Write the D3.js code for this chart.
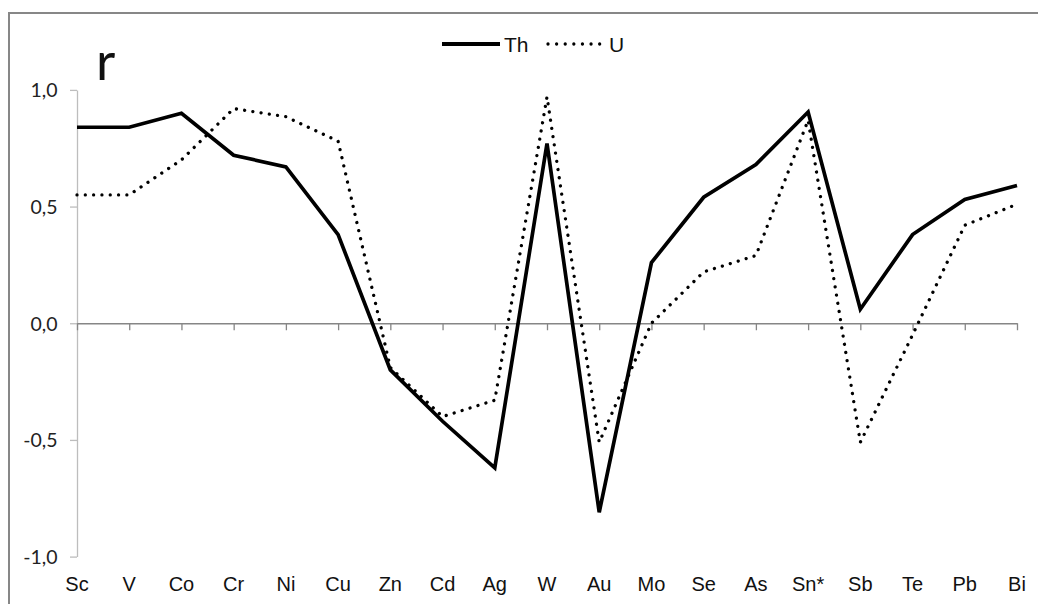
<!DOCTYPE html>
<html>
<head>
<meta charset="utf-8">
<script src="https://cdn.jsdelivr.net/npm/d3@7"></script>
<style>
  html, body { margin: 0; padding: 0; background: #fff; }
  svg { display: block; }
</style>
</head>
<body>
<svg id="chart" width="1038" height="604"></svg>
<script>
const categories = ["Sc","V","Co","Cr","Ni","Cu","Zn","Cd","Ag","W","Au","Mo","Se","As","Sn*","Sb","Te","Pb","Bi"];
const thValues = [0.84,0.84,0.90,0.72,0.67,0.38,-0.20,-0.42,-0.62,0.77,-0.81,0.26,0.54,0.68,0.905,0.06,0.38,0.53,0.59];
const uValues  = [0.55,0.55,0.70,0.92,0.885,0.78,-0.19,-0.40,-0.33,0.97,-0.51,0.0,0.22,0.29,0.87,-0.51,-0.05,0.42,0.51];
const yTicks = [-1.0,-0.5,0.0,0.5,1.0];
const seriesNames = ["Th","U"];

const svg = d3.select("#chart");

// outer frame
svg.append("rect").attr("x",9).attr("y",13).attr("width",1100).attr("height",700)
  .attr("fill","none").attr("stroke","#878787").attr("stroke-width",2);

const x = d3.scalePoint().domain(categories).range([77,1017]).padding(0);
const y = d3.scaleLinear().domain([-1,1]).range([556.6,89.9]);

// y axis
const yAxis = svg.append("g").attr("transform","translate(77,0)")
  .call(d3.axisLeft(y).tickValues(yTicks).tickSizeInner(7).tickSizeOuter(0)
    .tickFormat(d => d3.format(".1f")(d).replace(".", ",").replace("−","-")));
yAxis.select(".domain").attr("stroke","#bdbdbd").attr("stroke-width",1.3);
yAxis.selectAll(".tick line").attr("stroke","#bdbdbd").attr("stroke-width",1.3);
yAxis.selectAll(".tick text").attr("x",-19.5).attr("dy","0.36em")
  .attr("font-family","Lato, 'Open Sans', sans-serif")
  .attr("font-size",19.5).attr("fill","#222");

// x axis at zero
const xAxis = svg.append("g").attr("transform",`translate(0,${y(0)})`)
  .call(d3.axisBottom(x).tickSizeInner(7).tickSizeOuter(0).tickFormat(""));
xAxis.select(".domain").attr("stroke","#868686").attr("stroke-width",1.3);
xAxis.selectAll(".tick line").attr("stroke","#868686").attr("stroke-width",1.3);

// category labels at the bottom
svg.append("g").selectAll("text").data(categories).join("text")
  .attr("x", d => x(d)).attr("y", 591)
  .attr("text-anchor","middle")
  .attr("font-family","'Liberation Sans', Arial, sans-serif")
  .attr("font-size",20).attr("fill","#111")
  .text(d => d);

// lines
const line = d3.line().x((d,i) => x(categories[i])).y(d => y(d));
svg.append("path").datum(uValues).attr("d", line)
  .attr("fill","none").attr("stroke","#000").attr("stroke-width",3.3)
  .attr("stroke-linecap","round").attr("stroke-dasharray","0.01 8.3");
svg.append("path").datum(thValues).attr("d", line)
  .attr("fill","none").attr("stroke","#000").attr("stroke-width",3.7)
  .attr("stroke-linejoin","miter");

// legend
const lg = svg.append("g");
lg.append("line").attr("x1",442).attr("x2",500).attr("y1",44).attr("y2",44)
  .attr("stroke","#000").attr("stroke-width",4);
lg.append("text").attr("x",504).attr("y",52).text(seriesNames[0])
  .attr("font-family","'Liberation Sans', Arial, sans-serif").attr("font-size",21).attr("fill","#111");
lg.append("line").attr("x1",548).attr("x2",600).attr("y1",44).attr("y2",44)
  .attr("stroke","#000").attr("stroke-width",3.3).attr("stroke-linecap","round")
  .attr("stroke-dasharray","0.01 8.6");
lg.append("text").attr("x",609).attr("y",52).text(seriesNames[1])
  .attr("font-family","'Liberation Sans', Arial, sans-serif").attr("font-size",21).attr("fill","#111");

// axis title "r"
svg.append("text").attr("x",96).attr("y",80).text("r")
  .attr("font-family","Lato, 'Open Sans', sans-serif").attr("font-size",53).attr("fill","#111");
</script>
</body>
</html>
